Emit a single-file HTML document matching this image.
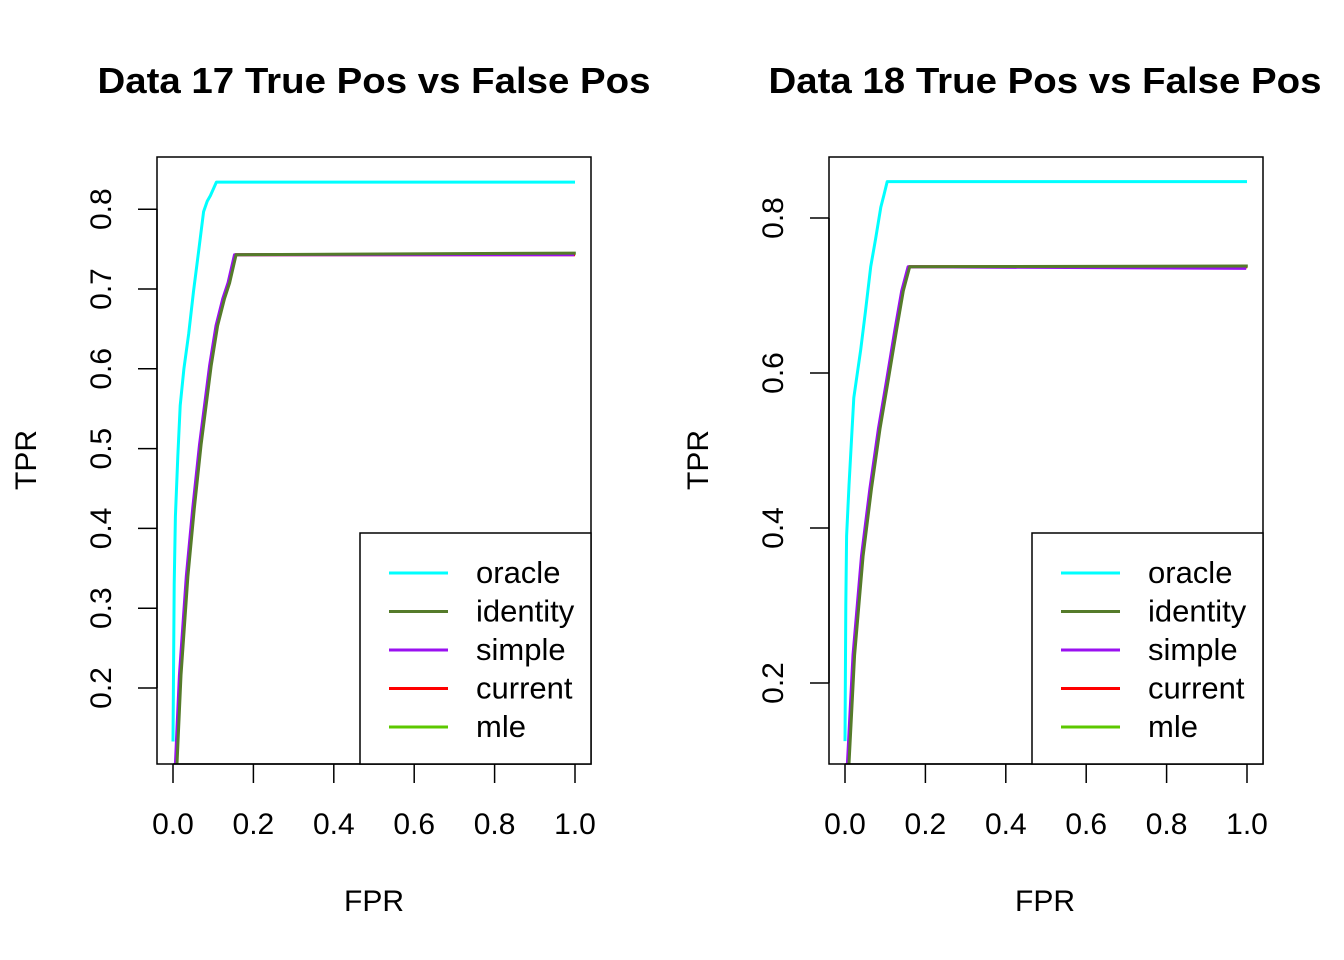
<!DOCTYPE html>
<html><head><meta charset="utf-8"><style>
html,body{margin:0;padding:0;background:#fff;}
svg{display:block;font-family:"Liberation Sans",Arial,sans-serif;}
</style></head><body>
<svg id="c" width="1344" height="960" xmlns="http://www.w3.org/2000/svg"></svg>
<script>
const seriesNames = ["oracle","identity","simple","current","mle"];
const seriesColors = ["#00FFFF","#557B2A","#9A10F0","#FF0000","#5CC800"];
const xTicks = [0,0.2,0.4,0.6,0.8,1.0];
const xTickLabels = ["0.0","0.2","0.4","0.6","0.8","1.0"];
const leftYTicks = [0.2,0.3,0.4,0.5,0.6,0.7,0.8];
const rightYTicks = [0.2,0.4,0.6,0.8];
// Data 17
const d17OracleFPR = [0,0.003,0.006,0.012,0.018,0.027,0.039,0.051,0.064,0.076,0.085,0.093,0.108,1];
const d17OracleTPR = [0.133,0.33,0.415,0.49,0.554,0.60,0.644,0.697,0.748,0.797,0.81,0.817,0.834,0.834];
const d17ModelFPR = [0.008,0.018,0.035,0.051,0.068,0.093,0.109,0.126,0.139,0.155,1];
const d17ModelTPR = [0.105,0.216,0.34,0.425,0.505,0.604,0.654,0.688,0.708,0.743,0.743];
const d17Final = [0.834,0.745,0.743,0.743,0.744];
// Data 18
const d18OracleFPR = [0,0.002,0.004,0.01,0.022,0.039,0.051,0.064,0.076,0.089,0.097,0.105,1];
const d18OracleTPR = [0.125,0.3,0.39,0.455,0.568,0.63,0.68,0.737,0.773,0.814,0.83,0.847,0.847];
const d18ModelFPR = [0.008,0.022,0.043,0.064,0.085,0.105,0.126,0.143,0.159,1];
const d18ModelTPR = [0.096,0.236,0.364,0.451,0.528,0.589,0.655,0.706,0.737,0.737];
const d18Final = [0.847,0.738,0.735,0.737,0.737];

const NS="http://www.w3.org/2000/svg";
const svg=document.getElementById('c');
function el(tag,attrs,parent){const e=document.createElementNS(NS,tag);for(const k in attrs)e.setAttribute(k,attrs[k]);(parent||svg).appendChild(e);return e;}

function panel(cfg){
  const g=el('g',{});
  
  
  const X=v=>cfg.x0+v*402;
  const Y=v=>cfg.y0-(v-0.2)*cfg.ys;
  const t=el('text',{x:cfg.tx,y:93,'font-size':'36','font-weight':'bold','text-anchor':'middle',textLength:'553',lengthAdjust:'spacingAndGlyphs'},g);
  t.textContent=cfg.title;
  
  
  const offs=[0.002,-0.002,0,0.001];
  for(let s=4;s>=0;s--){
    let fx,fy;
    if(s===0){fx=cfg.oFPR;fy=cfg.oTPR.slice();}
    else{fx=cfg.mFPR.map(v=>Math.max(0,v+offs[s-1]));fy=cfg.mTPR.slice();}
    fy[fy.length-1]=cfg.fin[s];fy[fy.length-2]=Math.min(fy[fy.length-2],cfg.fin[s]+0.002);
    const pts=fx.map((v,i)=>X(v).toFixed(1)+','+Y(fy[i]).toFixed(1)).join(' ');
    const p=el('polyline',{points:pts,fill:'none',stroke:seriesColors[s],'stroke-width':'3','stroke-linejoin':'round'},g);
    
    
  }
  const b=el('rect',{x:cfg.bx,y:157,width:434,height:607,fill:'none',stroke:'#000','stroke-width':'1.5'},g);
  
  
  el('line',{x1:X(0),x2:X(1),y1:764,y2:764,stroke:'#000','stroke-width':'1.5'},g);
  xTicks.forEach((v,i)=>{
    el('line',{x1:X(v),x2:X(v),y1:764,y2:783,stroke:'#000','stroke-width':'1.5'},g);
    const tt=el('text',{x:X(v),y:834,'font-size':'30','text-anchor':'middle'},g);
    tt.textContent=xTickLabels[i];
    
    
  });
  const xl=el('text',{x:cfg.tx,y:911,'font-size':'30','text-anchor':'middle'},g);
  xl.textContent='FPR';
  
  
  const yt=cfg.yTicks;
  el('line',{x1:cfg.bx,x2:cfg.bx,y1:Y(yt[0]),y2:Y(yt[yt.length-1]),stroke:'#000','stroke-width':'1.5'},g);
  yt.forEach(v=>{
    el('line',{x1:cfg.bx,x2:cfg.bx-19,y1:Y(v),y2:Y(v),stroke:'#000','stroke-width':'1.5'},g);
    const tt=el('text',{x:0,y:0,'font-size':'30','text-anchor':'middle',transform:`translate(${cfg.bx-46},${Y(v)}) rotate(-90)`},g);
    tt.textContent=v.toFixed(1);
    
    
  });
  const yl=el('text',{x:0,y:0,'font-size':'30','text-anchor':'middle',transform:`translate(${cfg.bx-121},460) rotate(-90)`},g);
  yl.textContent='TPR';
  
  
  const lg=el('g',{},g);
  
  
  el('rect',{x:cfg.bx+203,y:533,width:231,height:231,fill:'#fff',stroke:'#000','stroke-width':'1.5'},lg);
  seriesNames.forEach((n,i)=>{
    const y=573+i*38.5;
    const e=el('g',{},lg);
    
    
    el('line',{x1:cfg.bx+232,x2:cfg.bx+291,y1:y,y2:y,stroke:seriesColors[i],'stroke-width':'3'},e);
    const tx=el('text',{x:cfg.bx+319,y:y+10,'font-size':'31'},e);
    tx.textContent=n;
  });
}
panel({name:'panel-data-17',title:'Data 17 True Pos vs False Pos',tx:374,bx:157,x0:173,y0:688,ys:798,yTicks:leftYTicks,oFPR:d17OracleFPR,oTPR:d17OracleTPR,mFPR:d17ModelFPR,mTPR:d17ModelTPR,fin:d17Final});
panel({name:'panel-data-18',title:'Data 18 True Pos vs False Pos',tx:1045,bx:829,x0:845,y0:683,ys:775,yTicks:rightYTicks,oFPR:d18OracleFPR,oTPR:d18OracleTPR,mFPR:d18ModelFPR,mTPR:d18ModelTPR,fin:d18Final});
</script>
</body></html>
